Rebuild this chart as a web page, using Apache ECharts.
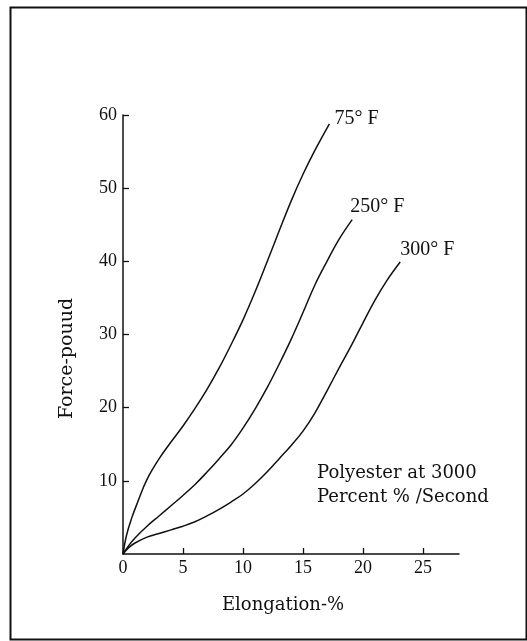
<!DOCTYPE html>
<html>
<head>
<meta charset="utf-8">
<script src="https://cdn.jsdelivr.net/npm/echarts@6/dist/echarts.min.js"></script>
<style>
html,body{margin:0;padding:0;background:#fff;}
#chart{width:527px;height:641px;}
</style>
</head>
<body>
<div id="chart"></div>
<script>
// Elongation (%) and force (pound)
const x75  = [0,0.3,0.7,1.2,2,3,4,5,6,7,8,9,10,11,12,13,14,15,16,17.2];
const y75  = [0,2.6,4.8,7,10.2,13,15.3,17.5,19.9,22.5,25.4,28.6,32,35.8,39.9,44.1,48.2,51.9,55.2,58.8];
const x250 = [0,0.5,1,2,3,4,5,6,7,8,9,10,11,12,13,14,15,16,17,18,19.1];
const y250 = [0,1.2,2.2,3.8,5.2,6.6,8,9.5,11.2,13,14.9,17.2,19.8,22.7,25.9,29.3,33,36.8,40,43,45.7];
const x300 = [0,0.5,1,2,3,4,5,6,7,8,9,10,11,12,13,14,15,16,17,18,19,20,21,22,23.1];
const y300 = [0,0.9,1.5,2.3,2.8,3.3,3.8,4.4,5.2,6.1,7.1,8.2,9.6,11.2,13,14.8,16.8,19.3,22.3,25.4,28.4,31.6,34.7,37.4,39.9];
const seriesNames = ['75° F','250° F','300° F'];
const xTicks = [0,5,10,15,20,25];
const yTicks = [10,20,30,40,50,60];
const xName = 'Elongation-%';
const yName = 'Force-pouud';
const noteLines = ['Polyester at 3000','Percent % /Second'];

const pairs = (xs, ys) => xs.map((v, i) => [v, ys[i]]);
const curves = [pairs(x75, y75), pairs(x250, y250), pairs(x300, y300)];
const labelOffsets = [[0,-5],[-7,-13],[-5,-12]];

const ink = '#111';
const chart = echarts.init(document.getElementById('chart'), null, {renderer:'canvas'});
chart.setOption({
  backgroundColor:'#fff',
  animation:false,
  grid:{left:123,right:68,top:115,bottom:87,containLabel:false},
  xAxis:{
    type:'value', min:0, max:28, interval:5,
    name:xName, nameLocation:'middle', nameGap:42,
    nameTextStyle:{fontFamily:'DejaVu Serif',fontSize:18,color:ink,padding:[0,16,0,0]},
    axisLine:{show:true,onZero:false,lineStyle:{color:ink,width:1.5}},
    axisTick:{show:true,inside:true,length:6,customValues:xTicks,lineStyle:{color:ink,width:1.3}},
    axisLabel:{customValues:xTicks,margin:5,fontFamily:'Liberation Serif',fontSize:18,color:ink},
    splitLine:{show:false}
  },
  yAxis:{
    type:'value', min:0, max:60, interval:10,
    name:yName, nameLocation:'middle', nameGap:46,
    nameTextStyle:{fontFamily:'DejaVu Serif',fontSize:19,color:ink,padding:[0,48,0,0]},
    axisLine:{show:true,onZero:false,lineStyle:{color:ink,width:1.5}},
    axisTick:{show:true,inside:true,length:6,customValues:yTicks,lineStyle:{color:ink,width:1.3}},
    axisLabel:{customValues:yTicks,margin:6,fontFamily:'Liberation Serif',fontSize:18,color:ink},
    splitLine:{show:false}
  },
  series: curves.map((d, i) => ({
    name:seriesNames[i], type:'line', data:d, smooth:0.4, showSymbol:false,
    lineStyle:{color:ink,width:1.5}, itemStyle:{color:ink},
    endLabel:{show:true, formatter:seriesNames[i], distance:5, offset:labelOffsets[i],
      fontFamily:'Liberation Serif', fontSize:20, color:ink}
  })),
  graphic:[
    {type:'rect', left:8, top:5, shape:{width:516,height:632},
     style:{fill:'none',stroke:ink,lineWidth:2}, silent:true},
    {type:'text', left:317, top:461,
     style:{text:noteLines.join('\n'), fontFamily:'DejaVu Serif', fontSize:18, lineHeight:24, fill:ink}}
  ]
});
</script>
</body>
</html>
